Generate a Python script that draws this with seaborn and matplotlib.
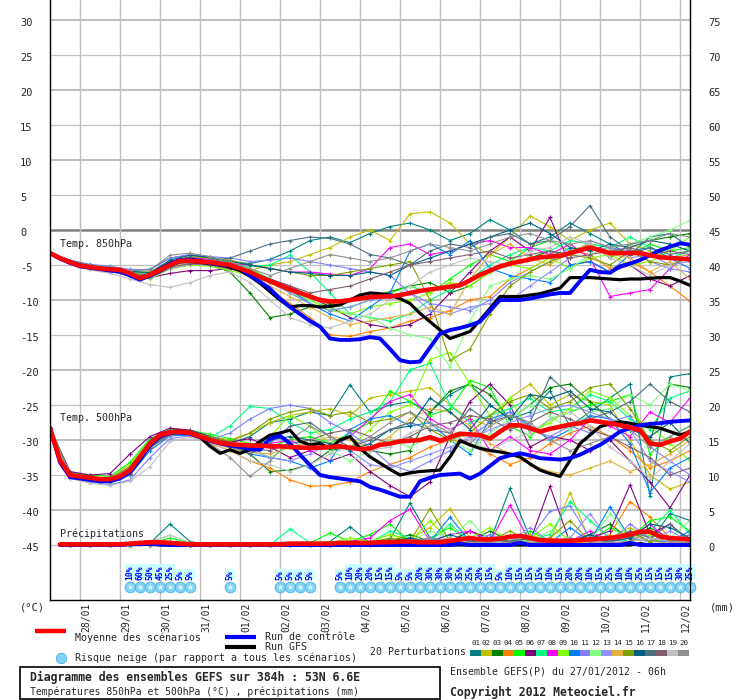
import numpy as np
import matplotlib
matplotlib.use("Agg")
import matplotlib.pyplot as plt
import matplotlib.transforms as mtransforms
from matplotlib.lines import Line2D
from matplotlib.patches import Rectangle
import seaborn as sns

nan = np.nan

# echeances (heures depuis le run du 27/01/2012 06h)
HOURS_6H = list(range(0, 385, 6))
HOURS_12H = list(range(0, 385, 12))

DAY_HOURS = list(range(18, 385, 24))
DAY_LABELS = ['28/01', '29/01', '30/01', '31/01', '01/02', '02/02', '03/02', '04/02',
              '05/02', '06/02', '07/02', '08/02', '09/02', '10/02', '11/02', '12/02']

T_TICKS = list(range(30, -50, -5))
MM_TICKS = list(range(0, 80, 5))

# temperature 850hPa (pas de 6h)
T850_MEAN = [-3.3, -4.0, -4.6, -5.1, -5.3, -5.5, -5.6, -5.7, -6.2, -6.9,
             -6.4, -5.7, -5.0, -4.4, -4.4, -4.5, -4.6, -4.8, -5.0, -5.5,
             -6.0, -6.7, -7.3, -7.9, -8.5, -9.0, -9.5, -10.0, -10.2, -10.2,
             -10.0, -9.8, -9.6, -9.5, -9.5, -9.3, -9.0, -8.7, -8.5, -8.3,
             -8.1, -7.9, -7.2, -6.4, -5.8, -5.2, -4.8, -4.5, -4.2, -3.9,
             -3.8, -3.7, -3.3, -2.9, -2.5, -2.9, -3.3, -3.3, -3.3, -3.3,
             -3.6, -3.9, -4.0, -4.1, -4.2]
T850_CTRL = [-3.3, -4.1, -4.7, -5.2, -5.4, -5.6, -5.8, -5.9, -6.5, -7.1,
             -6.5, -5.6, -4.8, -4.3, -4.2, -4.4, -4.7, -4.9, -5.1, -5.5,
             -6.5, -7.4, -8.4, -9.8, -11.0, -12.0, -13.0, -13.8, -15.5, -15.7,
             -15.7, -15.6, -15.3, -15.5, -17.0, -18.6, -18.9, -18.8, -16.8, -14.8,
             -14.3, -14.0, -13.6, -13.1, -11.5, -10.0, -10.0, -10.0, -9.8, -9.5,
             -9.2, -9.0, -9.0, -7.3, -5.7, -6.0, -6.1, -5.2, -4.8, -4.3,
             -3.6, -2.9, -2.4, -1.9, -2.1]
T850_GFS = [-3.3, -4.0, -4.5, -5.0, -5.3, -5.5, -5.6, -5.8, -6.4, -7.0,
            -6.6, -5.9, -5.1, -4.5, -4.5, -4.6, -4.8, -5.0, -5.3, -5.8,
            -6.6, -7.6, -8.8, -10.0, -11.0, -10.8, -10.8, -11.0, -10.9, -10.7,
            -10.0, -9.3, -9.0, -9.1, -9.3, -9.8, -10.5, -11.9, -13.1, -14.3,
            -15.5, -15.0, -14.5, -12.9, -11.2, -9.5, -9.5, -9.5, -9.3, -9.1,
            -8.7, -8.3, -6.8, -6.8, -6.8, -6.9, -7.0, -7.1, -7.0, -7.0,
            -6.9, -6.8, -6.8, -7.3, -7.9]

# temperature 500hPa (pas de 6h)
T500_MEAN = [-28.3, -32.9, -35.0, -35.2, -35.4, -35.6, -35.6, -35.2, -34.3, -32.4,
             -30.5, -29.3, -28.9, -28.8, -29.0, -29.5, -30.0, -30.4, -30.6, -30.7,
             -30.8, -30.8, -30.9, -30.9, -31.0, -31.1, -31.1, -31.1, -31.0, -30.9,
             -31.1, -31.3, -31.2, -30.7, -30.5, -30.2, -30.1, -30.0, -29.6, -30.1,
             -29.6, -29.1, -29.2, -29.3, -29.8, -28.8, -27.9, -27.9, -28.3, -28.8,
             -28.4, -28.1, -27.8, -27.6, -27.2, -27.4, -27.6, -27.9, -28.2, -28.6,
             -30.5, -30.7, -30.2, -29.8, -28.8]
T500_CTRL = [-28.3, -33.2, -35.3, -35.5, -35.7, -35.9, -35.9, -35.5, -34.6, -32.8,
             -30.8, -29.5, -29.0, -28.9, -29.1, -29.6, -30.1, -30.5, -30.8, -31.0,
             -31.3, -31.4, -29.8, -29.4, -30.5, -32.1, -33.6, -35.0, -35.3, -35.5,
             -35.7, -35.9, -36.7, -37.1, -37.6, -38.1, -38.1, -35.9, -35.4, -35.0,
             -34.9, -34.8, -35.5, -34.8, -33.7, -32.6, -32.2, -31.9, -32.2, -32.6,
             -32.7, -32.8, -32.6, -32.1, -31.4, -30.7, -29.8, -28.8, -28.3, -27.9,
             -27.7, -27.6, -27.4, -27.3, -27.2]
T500_GFS = [-28.3, -33.0, -35.2, -35.4, -35.6, -35.7, -35.7, -35.3, -34.5, -32.5,
            -30.4, -29.2, -28.8, -28.7, -29.0, -29.6, -30.9, -31.9, -31.4, -31.9,
            -31.4, -30.2, -29.3, -29.0, -28.6, -30.2, -30.7, -30.5, -31.2, -30.0,
            -29.5, -31.2, -32.4, -33.3, -34.2, -35.0, -34.7, -34.5, -34.4, -34.3,
            -32.4, -30.1, -30.7, -31.2, -31.5, -31.7, -32.0, -32.4, -33.4, -34.3,
            -34.8, -35.2, -32.9, -30.5, -29.3, -28.1, -27.7, -27.4, -27.6, -27.9,
            -28.1, -28.3, -28.8, -29.3, -28.8]

# precipitations en mm (pas de 6h)
PRECIP_MEAN = [nan, 0.1, 0.1, 0.1, 0.1, 0.1, 0.1, 0.1, 0.2, 0.3,
               0.4, 0.4, 0.3, 0.2, 0.1, 0.1, 0.1, 0.1, 0.1, 0.1,
               0.1, 0.1, 0.1, 0.1, 0.2, 0.2, 0.2, 0.2, 0.2, 0.3,
               0.3, 0.3, 0.3, 0.4, 0.4, 0.5, 0.5, 0.4, 0.4, 0.4,
               0.6, 0.8, 1.0, 0.8, 0.8, 0.9, 1.2, 1.3, 1.0, 0.7,
               0.6, 0.6, 0.6, 0.7, 0.8, 0.9, 1.0, 1.2, 1.5, 1.9,
               1.9, 1.2, 1.0, 0.9, 0.8]
PRECIP_CTRL = [nan, 0, 0, 0, 0, 0, 0, 0, 0.1, 0.1,
               0.2, 0.1, 0, 0, 0, 0, 0, 0, 0, 0,
               0, 0, 0, 0, 0, 0, 0, 0, 0, 0,
               0, 0, 0, 0, 0, 0, 0, 0, 0, 0,
               0, 0.2, 0, 0, 0, 0, 0, 0.3, 0, 0,
               0, 0, 0, 0, 0, 0, 0, 0, 0.3, 0,
               0, 0, 0, 0, 0]
PRECIP_GFS = [nan, 0, 0, 0, 0, 0, 0, 0, 0.1, 0.2,
              0.1, 0, 0, 0, 0, 0, 0, 0, 0, 0,
              0, 0, 0, 0, 0, 0, 0, 0, 0, 0.1,
              0.3, 0.2, 0, 0, 0, 0, 0, 0, 0, 0,
              0, 0, 0, 0, 0, 0, 0, 0, 0, 0,
              0, 0, 0, 0, 0, 0, 0, 0, 0, 0.2,
              0, 0, 0, 0, 0]

PERT_NUMS = ['01', '02', '03', '04', '05', '06', '07', '08', '09', '10',
             '11', '12', '13', '14', '15', '16', '17', '18', '19', '20']
PERT_COLORS = ['#008080', '#c0c000', '#008000', '#ff8000', '#00ff00',
               '#800080', '#00ff80', '#ff00ff', '#80ff00', '#0080ff',
               '#8080ff', '#80ff80', '#9090ff', '#e0b040', '#80a000',
               '#006080', '#507080', '#806070', '#c0c0c0', '#909090']

# perturbations 850hPa (pas de 12h)
T850_PERT = [
    [-3.3, -4.4, -5.0, -5.3, -5.8, -5.6, -4.0, -3.6, -3.9, -4.5, -4.8,
     -4.2, -3.0, -1.5, -1.0, -1.8, -0.5, 0.5, 1.0, 0.0, -1.5, -0.5,
     1.5, 0.0, -2.0, -1.0, 1.0, -0.5, -2.0, -3.5, -1.0, -0.5, -2.5],
    [-3.3, -4.7, -5.4, -5.8, -6.4, -6.0, -4.8, -4.5, -5.0, -5.5, -5.8,
     -5.0, -4.5, -3.5, -2.5, -1.0, 0.0, -1.5, 2.3, 2.6, 1.0, -2.0,
     -3.5, -1.0, 2.0, 0.5, -1.5, 0.0, 1.0, -2.0, -3.0, -4.0, -3.5],
    [-3.3, -4.5, -5.2, -5.6, -6.3, -6.6, -5.2, -4.6, -4.9, -6.0, -9.0,
     -12.5, -12.0, -11.0, -10.5, -10.0, -9.5, -8.8, -8.0, -7.5, -9.0, -8.0,
     -6.0, -5.0, -4.0, -3.0, -3.5, -2.0, -4.0, -2.0, -1.5, -1.0, -0.5],
    [-3.3, -4.6, -5.3, -5.5, -6.0, -6.7, -5.2, -4.6, -4.8, -5.2, -6.5,
     -8.5, -10.5, -12.5, -15.0, -15.2, -14.5, -14.0, -13.0, -12.5, -11.5, -10.0,
     -9.5, -7.0, -5.5, -4.0, -3.0, -3.5, -5.5, -4.5, -6.0, -8.0, -10.2],
    [-3.3, -4.5, -5.1, -5.5, -6.0, -6.2, -4.6, -4.0, -4.2, -4.6, -5.5,
     -7.0, -9.0, -10.5, -11.5, -11.0, -10.0, -9.0, -8.0, -9.0, -7.0, -5.0,
     -3.5, -4.5, -2.5, -1.5, -3.0, -2.0, -2.5, -3.5, -2.0, -3.0, -2.5],
    [-3.3, -4.7, -5.4, -5.9, -6.6, -6.8, -6.2, -5.8, -5.8, -5.5, -6.0,
     -7.0, -8.0, -9.5, -11.0, -12.5, -13.5, -14.0, -13.5, -12.0, -9.0, -6.0,
     -3.0, -1.0, -3.0, 1.8, -5.0, -4.5, -6.0, -5.0, -7.0, -8.0, -6.5],
    [-3.3, -4.4, -5.0, -5.2, -5.9, -6.3, -4.7, -4.2, -4.5, -5.0, -5.2,
     -5.0, -3.6, -6.0, -9.0, -12.0, -12.5, -13.0, -12.0, -10.0, -8.5, -7.0,
     -5.0, -3.5, -2.5, -3.0, -1.5, -2.0, -2.5, -1.0, -2.5, -4.0, -3.0],
    [-3.3, -4.5, -5.1, -5.4, -6.2, -6.5, -4.5, -3.9, -4.2, -4.8, -5.0,
     -5.5, -6.0, -6.0, -6.3, -6.5, -5.5, -2.5, -2.0, -3.5, -3.0, -2.0,
     -1.5, -2.5, -2.5, -3.5, -2.0, -4.0, -9.5, -9.0, -8.5, -5.5, -3.5],
    [-3.3, -4.6, -5.3, -5.7, -6.5, -7.0, -5.6, -5.0, -5.2, -5.8, -6.5,
     -7.5, -9.0, -10.0, -11.5, -12.0, -11.0, -10.5, -10.0, -9.0, -7.5, -8.0,
     -6.0, -5.0, -5.5, -4.0, -5.5, -4.0, -3.5, -5.0, -4.5, -3.0, -1.0],
    [-3.3, -4.5, -5.2, -5.6, -6.1, -6.4, -5.0, -4.3, -4.6, -5.2, -6.5,
     -7.5, -8.5, -10.5, -12.0, -13.0, -11.0, -9.0, -3.0, -2.0, -3.5, -1.5,
     -5.5, -6.5, -7.0, -7.5, -5.0, -4.5, -6.0, -3.5, -2.5, -4.0, -5.5],
    [-3.3, -4.3, -4.9, -5.2, -5.6, -5.7, -4.0, -3.5, -3.8, -4.0, -4.5,
     -4.3, -4.0, -4.5, -5.0, -5.5, -6.0, -6.5, -9.0, -10.5, -11.0, -11.5,
     -10.0, -7.5, -6.0, -4.5, -2.5, -3.0, -2.5, -3.0, -4.5, -5.5, -6.0],
    [-3.3, -4.6, -5.2, -5.5, -6.1, -6.4, -5.2, -4.8, -5.0, -5.5, -6.5,
     -7.5, -8.5, -10.0, -11.0, -12.0, -12.5, -14.0, -15.0, -15.5, -19.5, -13.0,
     -8.0, -7.0, -6.5, -7.0, -5.5, -3.5, -2.5, -2.0, -1.0, 0.0, 1.4],
    [-3.3, -4.7, -5.4, -5.8, -6.6, -6.9, -5.5, -4.9, -5.0, -5.4, -6.2,
     -7.5, -9.0, -10.5, -11.5, -11.0, -10.0, -9.5, -9.0, -11.5, -12.0, -11.0,
     -10.5, -10.0, -8.0, -6.0, -4.0, -1.5, -2.5, -4.0, -3.5, -5.0, -4.5],
    [-3.3, -4.6, -5.2, -5.6, -6.2, -6.5, -5.3, -4.7, -4.9, -5.5, -6.5,
     -8.0, -9.5, -11.0, -12.5, -13.5, -13.0, -12.5, -12.0, -11.0, -12.0, -7.0,
     -3.5, -2.0, -4.0, -5.0, -3.0, -2.0, -3.5, -4.0, -6.0, -4.5, -7.0],
    [-3.3, -4.5, -5.1, -5.5, -6.0, -6.0, -4.5, -3.8, -4.0, -4.3, -5.0,
     -5.5, -6.0, -6.5, -6.5, -6.0, -5.5, -5.0, -4.5, -10.0, -18.6, -17.0,
     -12.0, -8.0, -6.0, -4.5, -3.5, -4.0, -5.0, -3.0, -4.5, -5.0, -4.0],
    [-3.3, -4.4, -5.0, -5.4, -5.9, -6.1, -4.3, -3.6, -3.9, -4.5, -5.0,
     -5.5, -6.0, -6.2, -6.5, -6.5, -6.0, -6.5, -5.0, -4.0, -3.0, -2.0,
     -1.0, 0.0, 1.0, -0.5, -2.5, -3.0, -2.0, -2.5, -1.5, -2.0, -3.0],
    [-3.3, -4.7, -5.5, -5.9, -6.5, -6.5, -5.0, -4.5, -4.4, -4.0, -3.0,
     -2.0, -1.5, -1.0, -1.2, -2.0, -3.5, -4.0, -5.0, -3.0, -2.0, -2.5,
     -1.0, -0.5, -2.0, -1.5, 0.5, 3.5, -1.0, -3.0, -2.5, -3.5, -3.0],
    [-3.3, -4.6, -5.3, -5.6, -6.2, -6.4, -5.3, -4.8, -5.0, -5.5, -6.0,
     -7.0, -8.0, -9.0, -8.5, -8.0, -7.0, -6.0, -5.0, -4.5, -4.0, -3.5,
     -3.0, -4.0, -3.5, -3.0, -4.0, -3.5, -3.0, -2.5, -3.5, -3.0, -3.5],
    [-3.3, -4.8, -5.7, -6.2, -7.0, -7.8, -8.2, -7.5, -6.5, -6.0, -7.5,
     -10.0, -12.5, -13.5, -14.0, -13.0, -12.0, -10.0, -8.0, -6.0, -5.0, -4.0,
     -4.5, -5.0, -3.0, -2.5, -1.0, -2.0, -4.0, -5.0, -6.5, -5.0, -3.0],
    [-3.3, -4.4, -5.0, -5.3, -5.8, -5.7, -3.6, -3.3, -3.8, -4.5, -5.5,
     -6.5, -5.5, -4.5, -3.5, -4.0, -4.5, -4.0, -3.0, -2.0, -2.5, -3.0,
     -2.0, -1.0, -0.5, -1.5, -2.0, -1.5, -2.5, -2.0, -1.5, -0.5, -1.0],
]

# perturbations 500hPa (pas de 12h)
T500_PERT = [
    [-28.3, -35.2, -35.8, -36.0, -34.8, -31.0, -29.2, -29.0, -29.8, -30.5, -29.5,
     -27.5, -27.0, -26.0, -26.5, -22.1, -26.0, -25.0, -24.5, -26.0, -23.5, -22.0,
     -25.0, -27.0, -26.0, -23.0, -28.0, -26.0, -24.0, -22.0, -38.0, -21.0, -20.5],
    [-28.3, -34.8, -35.2, -35.4, -33.5, -30.0, -28.6, -28.8, -29.5, -30.0, -29.0,
     -27.5, -26.5, -26.0, -25.5, -26.5, -24.0, -23.5, -23.0, -22.5, -25.0, -27.0,
     -28.0, -24.0, -22.0, -25.0, -23.5, -24.5, -25.0, -30.0, -35.0, -37.0, -36.0],
    [-28.3, -35.0, -35.5, -35.8, -34.5, -30.8, -29.0, -28.7, -29.5, -30.5, -32.0,
     -34.5, -34.3, -33.5, -31.5, -31.0, -31.5, -32.0, -31.5, -26.0, -23.0, -22.0,
     -23.5, -27.0, -25.0, -22.5, -22.0, -24.5, -27.0, -28.0, -30.0, -22.0, -22.5],
    [-28.3, -35.1, -35.6, -35.8, -34.7, -30.9, -29.1, -29.3, -30.5, -31.5, -33.0,
     -34.0, -35.7, -36.6, -36.5, -36.0, -34.5, -33.5, -32.5, -31.0, -30.0, -30.5,
     -32.0, -33.5, -32.5, -30.5, -29.0, -28.0, -29.5, -31.5, -34.0, -33.0, -31.5],
    [-28.3, -34.6, -35.0, -35.2, -33.2, -29.8, -28.5, -28.6, -29.2, -29.8, -30.5,
     -31.0, -30.0, -29.5, -30.5, -29.0, -27.5, -23.0, -24.5, -26.5, -25.5, -21.5,
     -22.5, -28.0, -29.5, -27.0, -26.0, -25.0, -24.5, -23.5, -32.0, -29.5, -28.0],
    [-28.3, -34.5, -35.0, -34.8, -32.0, -29.5, -28.3, -28.6, -29.5, -30.3, -29.8,
     -31.0, -32.5, -31.5, -33.0, -32.0, -34.5, -36.5, -38.1, -36.0, -29.5, -24.5,
     -22.0, -25.0, -31.0, -29.5, -30.0, -31.5, -30.0, -33.0, -36.0, -39.7, -35.0],
    [-28.3, -34.8, -35.3, -35.5, -33.8, -30.2, -28.8, -28.8, -29.7, -28.0, -25.2,
     -25.5, -27.5, -29.0, -28.5, -27.0, -26.0, -24.5, -20.0, -19.0, -25.0, -27.5,
     -26.5, -25.5, -24.0, -26.0, -25.5, -23.5, -24.5, -27.0, -28.5, -24.0, -23.0],
    [-28.3, -35.0, -35.5, -35.7, -34.4, -30.6, -28.8, -28.9, -29.9, -30.8, -31.5,
     -30.5, -30.0, -31.5, -31.0, -29.5, -27.0, -24.5, -23.5, -27.0, -28.5, -27.0,
     -31.5, -29.5, -31.5, -32.0, -30.0, -27.0, -28.0, -29.5, -26.0, -27.5, -24.0],
    [-28.3, -35.3, -35.9, -36.1, -35.0, -31.2, -29.2, -29.3, -30.2, -30.9, -31.0,
     -29.5, -26.5, -28.0, -30.5, -31.0, -28.5, -26.0, -25.0, -18.5, -17.5, -22.0,
     -26.5, -24.0, -29.0, -27.5, -25.5, -23.0, -24.0, -26.5, -28.0, -30.5, -33.0],
    [-28.3, -35.2, -35.7, -36.0, -35.0, -31.5, -29.4, -29.3, -30.1, -31.0, -32.0,
     -32.5, -33.0, -34.0, -33.0, -28.5, -27.0, -26.5, -28.0, -27.5, -30.0, -32.0,
     -27.0, -26.0, -28.0, -30.0, -28.5, -26.5, -27.0, -30.5, -37.5, -34.0, -32.5],
    [-28.3, -35.4, -36.0, -36.4, -35.7, -32.5, -29.8, -29.4, -30.0, -29.0, -27.0,
     -25.5, -25.0, -25.5, -27.5, -29.0, -31.0, -33.5, -34.5, -33.0, -31.5, -29.5,
     -27.5, -26.0, -28.5, -29.5, -28.0, -29.0, -27.5, -26.5, -31.0, -33.0, -35.0],
    [-28.3, -34.9, -35.4, -35.6, -34.0, -30.4, -28.9, -29.0, -29.8, -30.5, -31.0,
     -32.5, -31.0, -30.0, -31.5, -33.0, -31.5, -30.0, -31.0, -29.5, -30.0, -31.5,
     -29.0, -27.0, -25.0, -26.5, -28.5, -26.0, -25.5, -23.5, -25.0, -22.0, -23.0],
    [-28.3, -35.0, -35.4, -35.7, -34.5, -31.0, -29.3, -29.1, -29.9, -30.6, -31.5,
     -32.5, -33.0, -32.0, -30.5, -31.5, -33.5, -34.0, -33.0, -32.0, -31.0, -30.0,
     -28.5, -27.5, -26.5, -25.5, -25.0, -26.0, -27.0, -28.5, -33.0, -34.5, -36.0],
    [-28.3, -35.1, -35.6, -35.9, -34.6, -30.8, -29.1, -29.2, -30.2, -31.2, -31.8,
     -32.0, -31.0, -30.5, -29.5, -30.0, -31.0, -29.5, -27.0, -25.5, -26.0, -28.0,
     -30.5, -32.0, -33.5, -34.5, -35.0, -34.0, -33.0, -34.5, -33.5, -32.0, -30.0],
    [-28.3, -34.9, -35.3, -35.5, -33.8, -30.3, -28.7, -28.8, -29.6, -30.2, -29.0,
     -27.0, -26.0, -25.5, -26.5, -26.0, -27.5, -27.0, -26.0, -28.5, -30.0, -29.0,
     -26.5, -24.5, -23.5, -25.5, -24.5, -22.5, -22.0, -25.5, -30.0, -31.5, -29.5],
    [-28.3, -35.0, -35.5, -35.6, -34.2, -30.6, -28.9, -29.0, -29.9, -30.4, -30.8,
     -30.0, -29.5, -30.0, -30.5, -31.5, -30.5, -28.5, -28.0, -24.0, -26.0, -28.5,
     -25.0, -27.0, -23.5, -24.0, -23.0, -25.5, -26.0, -28.5, -29.5, -27.5, -30.5],
    [-28.3, -35.0, -35.5, -35.8, -34.6, -30.9, -29.0, -29.0, -30.0, -30.7, -32.0,
     -30.5, -28.0, -27.5, -29.5, -31.0, -30.0, -28.5, -27.5, -28.5, -29.0, -25.5,
     -27.5, -26.5, -27.5, -21.0, -23.5, -27.0, -26.0, -24.5, -22.0, -24.5, -26.0],
    [-28.3, -35.1, -35.6, -35.9, -34.8, -31.1, -29.2, -29.2, -30.1, -30.9, -31.3,
     -31.5, -30.5, -30.0, -29.0, -28.5, -29.5, -30.5, -29.5, -28.0, -27.5, -26.5,
     -27.0, -28.5, -27.5, -26.0, -27.0, -28.5, -29.5, -31.0, -32.5, -35.0, -34.0],
    [-28.3, -35.5, -36.2, -36.5, -35.9, -33.8, -30.2, -29.6, -30.4, -31.5, -33.0,
     -33.5, -34.5, -33.5, -32.0, -31.0, -31.5, -31.0, -29.0, -28.0, -28.5, -30.0,
     -31.5, -30.0, -29.0, -27.0, -26.0, -28.0, -31.0, -33.0, -35.5, -33.0, -30.5],
    [-28.3, -35.0, -35.5, -35.5, -34.0, -30.5, -28.8, -29.1, -30.5, -32.5, -35.2,
     -33.0, -30.0, -28.0, -29.5, -31.0, -29.5, -27.5, -26.0, -27.5, -29.0, -30.5,
     -28.0, -26.5, -27.5, -30.0, -31.5, -30.5, -29.5, -28.5, -31.0, -29.5, -28.0],
]

# perturbations precipitations en mm (pas de 12h)
PRECIP_PERT = [
    [nan, 0, 0, 0, 0, 0.3, 3.0, 0.5, 0, 0, 0,
     0, 0.2, 0, 0.5, 2.6, 0.3, 0.8, 6.0, 1.0, 0.5, 2.0,
     0.5, 8.1, 1.0, 0.5, 0.3, 1.5, 0.5, 2.0, 0.5, 4.5, 3.5],
    [nan, 0, 0, 0, 0, 0, 0.2, 0, 0, 0, 0,
     0, 0, 0, 0, 0.2, 0.5, 1.5, 0.8, 2.5, 5.2, 1.0,
     0.3, 0.5, 1.5, 0.5, 7.5, 0.5, 1.0, 2.5, 1.0, 0.5, 0.3],
    [nan, 0, 0, 0, 0, 0.1, 0.5, 0.2, 0, 0, 0,
     0, 0, 0, 0.5, 0.3, 0.2, 0.5, 1.5, 0.5, 0.3, 0.5,
     2.0, 0.5, 1.0, 0.3, 0.5, 1.5, 3.0, 0.8, 2.5, 1.0, 0.5],
    [nan, 0, 0, 0, 0, 0, 0.2, 0, 0, 0, 0,
     0, 0, 0, 0, 0, 0.3, 0.5, 0.3, 0.5, 0.2, 0.5,
     1.0, 0.3, 0.2, 0.5, 0.3, 0.5, 1.5, 6.2, 4.0, 1.0, 0.5],
    [nan, 0, 0, 0, 0, 0.2, 1.0, 0.3, 0, 0, 0,
     0, 0, 0.3, 1.7, 0.5, 1.5, 3.0, 0.5, 1.0, 2.5, 0.5,
     1.0, 0.3, 2.0, 0.5, 1.0, 0.5, 2.5, 1.0, 3.5, 4.0, 2.0],
    [nan, 0, 0, 0, 0, 0, 0.3, 0, 0, 0, 0,
     0, 0, 0, 0, 0, 0, 0.5, 0.2, 0.3, 0.5, 2.0,
     1.0, 0.5, 0.5, 8.4, 0.3, 1.0, 2.0, 8.6, 1.5, 3.0, 0.5],
    [nan, 0, 0, 0, 0, 0, 0.5, 0.2, 0, 0, 0,
     0, 2.3, 0.3, 0, 0.5, 0.3, 2.0, 1.0, 0.5, 3.0, 0.5,
     1.0, 0.5, 0.8, 1.5, 6.2, 3.5, 1.0, 0.5, 2.0, 5.0, 1.5],
    [nan, 0, 0, 0, 0, 0, 0.5, 0, 0, 0, 0,
     0, 0, 0, 0, 0.5, 1.0, 3.5, 5.1, 0.5, 1.5, 2.0,
     0.5, 5.7, 0.5, 1.0, 0.5, 2.0, 0.5, 1.0, 3.0, 0.5, 1.0],
    [nan, 0, 0, 0, 0, 0, 0.3, 0, 0, 0, 0,
     0, 0.2, 0, 0.3, 1.0, 0.5, 1.5, 0.5, 3.5, 0.5, 1.0,
     2.5, 0.5, 1.0, 3.0, 0.5, 1.0, 0.5, 2.0, 1.5, 0.5, 1.0],
    [nan, 0, 0, 0, 0, 0, 0.2, 0, 0, 0, 0,
     0, 0, 0, 0, 0.3, 0.5, 0.5, 1.0, 0.5, 4.0, 0.5,
     0.3, 1.0, 0.5, 0.3, 2.5, 0.5, 5.5, 1.0, 0.5, 0.5, 2.0],
    [nan, 0, 0, 0, 0, 0, 0.3, 0.2, 0, 0, 0,
     0, 0, 0, 0, 0, 0.3, 0.5, 0.2, 1.0, 0.5, 0.5,
     1.5, 0.5, 1.0, 4.8, 5.6, 1.0, 0.5, 3.0, 1.0, 0.5, 1.5],
    [nan, 0, 0, 0, 0, 0.5, 1.4, 0.3, 0, 0, 0,
     0, 0, 0, 0.5, 0.3, 0.5, 1.0, 0.5, 2.0, 1.0, 3.5,
     0.5, 1.0, 0.5, 2.0, 1.0, 0.5, 4.5, 1.0, 0.5, 1.0, 3.5],
    [nan, 0, 0, 0, 0, 0, 0.2, 0, 0, 0, 0,
     0, 0, 0, 0, 0, 0.2, 0.3, 0.5, 0.2, 0.5, 1.0,
     0.3, 0.5, 2.5, 0.5, 1.0, 4.5, 0.5, 1.0, 0.5, 2.0, 0.5],
    [nan, 0, 0, 0, 0, 0, 0.2, 0, 0, 0, 0,
     0, 0, 0, 0, 0.2, 0.3, 0.5, 1.0, 0.5, 0.3, 0.5,
     0.5, 0.3, 0.5, 1.0, 0.5, 0.3, 0.5, 1.5, 0.5, 0.3, 0.5],
    [nan, 0, 0, 0, 0, 0, 0.3, 0, 0, 0, 0,
     0, 0, 0, 0.2, 0.5, 0.3, 1.0, 0.5, 5.2, 0.5, 1.0,
     0.5, 2.0, 0.5, 1.0, 3.5, 0.5, 1.0, 2.0, 0.5, 1.0, 0.5],
    [nan, 0, 0, 0, 0, 0, 0.2, 0, 0, 0, 0,
     0, 0, 0, 0, 0.3, 0.5, 0.5, 1.0, 0.5, 1.5, 0.5,
     1.0, 0.5, 1.0, 0.5, 0.3, 1.5, 0.5, 1.0, 3.0, 2.5, 1.0],
    [nan, 0, 0, 0, 0, 0, 0.2, 0, 0, 0, 0,
     0, 0, 0, 0, 0, 0.3, 0.5, 0.2, 0.5, 1.0, 0.5,
     0.3, 0.5, 1.0, 0.5, 0.5, 1.0, 0.5, 2.0, 1.0, 3.0, 0.5],
    [nan, 0, 0, 0, 0, 0, 0.2, 0, 0, 0, 0,
     0, 0, 0, 0, 0, 0.2, 0.3, 0.5, 0.3, 0.5, 0.3,
     1.0, 0.5, 0.3, 0.5, 0.5, 1.0, 0.3, 0.5, 1.0, 0.5, 0.3],
    [nan, 0, 0, 0, 0, 0.5, 1.4, 0.3, 0, 0, 0,
     0, 0, 0, 0, 0.2, 0.3, 0.5, 0.2, 0.5, 1.0, 0.3,
     0.5, 0.2, 0.5, 0.3, 1.0, 0.5, 0.3, 0.5, 1.0, 0.5, 0.3],
    [nan, 0, 0, 0, 0, 0, 0.3, 0, 0, 0, 0,
     0, 0, 0, 0, 0.2, 0.3, 0.5, 0.5, 1.0, 0.5, 0.3,
     0.5, 1.0, 0.3, 0.5, 1.0, 0.5, 0.3, 0.5, 2.0, 0.5, 0.3],
]

# risque neige : echeance (pas de 6h) et pourcentage
SNOW_STEPS = [8, 9, 10, 11, 12, 13, 14, 18, 23, 24, 25, 26] + list(range(29, 65))
SNOW_PCT = [10, 60, 50, 45, 25, 5, 5, 5, 5, 5, 5, 5,
            5, 10, 20, 20, 15, 15, 5, 5, 20, 30, 30, 30, 35, 25, 20, 15, 5,
            10, 15, 15, 15, 10, 15, 20, 20, 10, 15, 25, 10, 10, 25, 15, 15, 15, 30, 25]


def px_x(px):
    return px / 740


def px_y(py):
    return 1 - py / 700


def tracer_membre(ax, hours, values, color):
    sns.lineplot(x=hours, y=values, color=color, linewidth=0.8, marker='+',
                 markersize=3.5, markeredgewidth=0.8, markeredgecolor=color,
                 estimator=None, legend=False, ax=ax)


def tracer_ligne(ax, hours, values, color, lw):
    sns.lineplot(x=hours, y=values, color=color, linewidth=lw,
                 estimator=None, legend=False, ax=ax)


sns.set_style("white")
plt.rcParams['font.family'] = ['DejaVu Sans Mono']

fig = plt.figure(figsize=(7.4, 7.0), dpi=100)
ax = fig.add_axes([50 / 740, 100 / 700, 640 / 740, 600 / 700])
ax2 = ax.twinx()

y_lo, y_hi = -370 / 7, 230 / 7

# grille
for t in T_TICKS:
    if t == 0:
        ax.axhline(t, color='#808080', lw=1.8, zorder=0.5)
    elif t % 10 == 0:
        ax.axhline(t, color='#c0c0c0', lw=1.5, zorder=0.5)
    else:
        ax.axhline(t, color='#c0c0c0', lw=0.9, zorder=0.5)
for h in DAY_HOURS:
    ax.axvline(h, color='#c0c0c0', lw=1.0, zorder=0.5)

# perturbations
for color, t850, t500, rr in zip(PERT_COLORS, T850_PERT, T500_PERT, PRECIP_PERT):
    tracer_membre(ax, HOURS_12H, t850, color)
    tracer_membre(ax, HOURS_12H, t500, color)
    tracer_membre(ax2, HOURS_12H, rr, color)

# run GFS, controle et moyenne
for serie in (T850_GFS, T500_GFS):
    tracer_ligne(ax, HOURS_6H, serie, 'black', 2.3)
for serie in (T850_CTRL, T500_CTRL):
    tracer_ligne(ax, HOURS_6H, serie, '#0000ff', 2.8)
for serie in (T850_MEAN, T500_MEAN):
    tracer_ligne(ax, HOURS_6H, serie, '#ff0000', 3.3)
tracer_ligne(ax2, HOURS_6H, PRECIP_GFS, 'black', 2.3)
tracer_ligne(ax2, HOURS_6H, PRECIP_CTRL, '#0000ff', 2.8)
tracer_ligne(ax2, HOURS_6H, PRECIP_MEAN, '#ff0000', 3.3)

# risque neige
snow_hours = [s * 6 for s in SNOW_STEPS]
trans = ax.get_xaxis_transform()
ax.scatter(snow_hours, [0.022] * len(snow_hours), transform=trans, s=60, marker='o',
           facecolor='#80d4f4', edgecolor='#4aaee0', linewidth=0.6, zorder=4, clip_on=False)
ax.scatter(snow_hours, [0.022] * len(snow_hours), transform=trans, s=22, marker='*',
           color='#e6f8ff', linewidth=0, zorder=5, clip_on=False)
for h, p in zip(snow_hours, SNOW_PCT):
    ax.text(h, 0.034, f"{p}%", transform=trans, rotation=90, ha='center', va='bottom',
            fontsize=5.8, fontweight='bold', color='#0000ff', zorder=6,
            bbox=dict(facecolor='#ccffff', edgecolor='none', pad=0.6))

# axes
ax.set_xlim(0, 384)
ax.set_ylim(y_lo, y_hi)
ax2.set_ylim(y_lo + 45, y_hi + 45)
ax.set_xlabel('')
ax.set_ylabel('')
ax2.set_ylabel('')

ax.set_xticks(DAY_HOURS)
ax.set_xticklabels(DAY_LABELS, rotation=90, fontsize=7)
ax.tick_params(axis='x', length=0, pad=2)
dx = mtransforms.ScaledTranslation(6 / 100, 0, fig.dpi_scale_trans)
for lab in ax.get_xticklabels():
    lab.set_transform(lab.get_transform() + dx)

ax.set_yticks(T_TICKS)
ax.set_yticklabels([str(t) for t in T_TICKS])
ax.tick_params(axis='y', length=0, pad=21.6, labelsize=7.5)
dy = mtransforms.ScaledTranslation(0, -2 / 100, fig.dpi_scale_trans)
for lab in ax.get_yticklabels():
    lab.set_horizontalalignment('left')
    lab.set_transform(lab.get_transform() + dy)

ax2.set_yticks(MM_TICKS)
ax2.set_yticklabels([str(m) for m in MM_TICKS])
ax2.tick_params(axis='y', length=0, pad=13, labelsize=7.5)
for lab in ax2.get_yticklabels():
    lab.set_transform(lab.get_transform() + dy)

for side in ('top', 'right'):
    ax.spines[side].set_visible(False)
for side in ('top', 'left', 'bottom'):
    ax2.spines[side].set_visible(False)
for sp in (ax.spines['left'], ax.spines['bottom'], ax2.spines['right']):
    sp.set_color('black')
    sp.set_linewidth(1.0)

# textes dans le graphique
fig.text(px_x(60), px_y(244), 'Temp. 850hPa', va='center', fontsize=7.2)
fig.text(px_x(60), px_y(418), 'Temp. 500hPa', va='center', fontsize=7.2)
fig.text(px_x(60), px_y(534), 'Précipitations', va='center', fontsize=7.2)
fig.text(px_x(20), px_y(607), '(°C)', va='center', fontsize=7.5)
fig.text(px_x(710), px_y(607), '(mm)', va='center', fontsize=7.5)

# legende
fig.add_artist(Line2D([px_x(35), px_x(66)], [px_y(631)] * 2, color='#ff0000', lw=3.2,
                      solid_capstyle='butt', transform=fig.transFigure))
fig.text(px_x(75), px_y(637.5), 'Moyenne des scénarios', va='center', fontsize=7.2)
fig.add_artist(Line2D([px_x(225), px_x(256)], [px_y(637)] * 2, color='#0000ff', lw=3.0,
                      solid_capstyle='butt', transform=fig.transFigure))
fig.text(px_x(265), px_y(637), 'Run de contrôle', va='center', fontsize=7.2)
fig.add_artist(Line2D([px_x(225), px_x(256)], [px_y(647)] * 2, color='black', lw=3.0,
                      solid_capstyle='butt', transform=fig.transFigure))
fig.text(px_x(265), px_y(647), 'Run GFS', va='center', fontsize=7.2)
fig.add_artist(Line2D([px_x(61)], [px_y(658)], marker='o', ms=7.5, mfc='#80d4f4',
                      mec='#4aaee0', mew=0.6, transform=fig.transFigure))
fig.text(px_x(75), px_y(658), 'Risque neige (par rapport a tous les scénarios)',
         va='center', fontsize=7.2)

fig.text(px_x(370), px_y(652), '20 Perturbations', va='center', fontsize=7.1)
for i, (num, col) in enumerate(zip(PERT_NUMS, PERT_COLORS)):
    x0 = 470 + i * 10.95
    fig.add_artist(Rectangle((px_x(x0), px_y(656)), 10.95 / 740, 6 / 700,
                             facecolor=col, edgecolor='none', transform=fig.transFigure))
    fig.text(px_x(x0 + 5.5), px_y(643), num, ha='center', va='center', fontsize=5.4)

fig.add_artist(Rectangle((px_x(20), px_y(699)), 420 / 740, 32 / 700, fill=False,
                         edgecolor='black', lw=1.2, transform=fig.transFigure))
fig.text(px_x(30), px_y(677), 'Diagramme des ensembles GEFS sur 384h : 53N 6.6E',
         va='center', fontsize=8.3, fontweight='bold')
fig.text(px_x(30), px_y(692), 'Températures 850hPa et 500hPa (°C) , précipitations (mm)',
         va='center', fontsize=7.0)
fig.text(px_x(450), px_y(672), 'Ensemble GEFS(P) du 27/01/2012 - 06h', va='center', fontsize=7.15)
fig.text(px_x(450), px_y(692), 'Copyright 2012 Meteociel.fr', va='center',
         fontsize=8.3, fontweight='bold')

fig.savefig('out.png', dpi=100)
